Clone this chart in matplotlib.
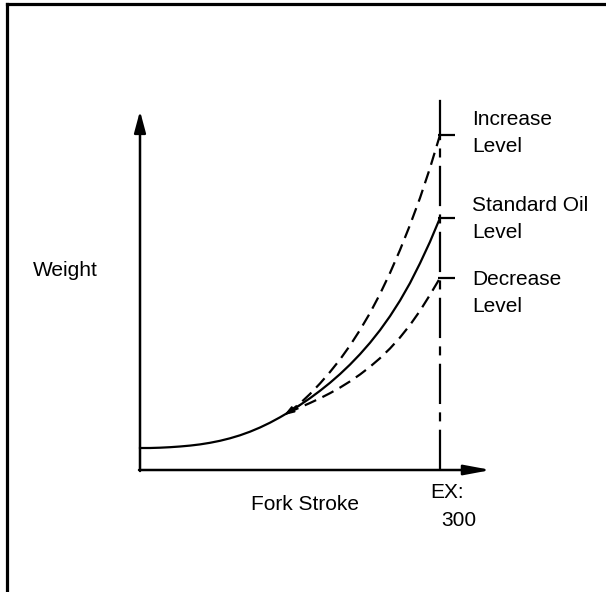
import matplotlib
matplotlib.use("Agg")
import matplotlib.pyplot as plt
from matplotlib.lines import Line2D

plt.rcParams['font.family'] = ['Liberation Sans', 'DejaVu Sans']
plt.rcParams['lines.scale_dashes'] = False

# ---- data (stroke units, weight units) ----
std_x = [0, 10, 20, 30, 40, 50, 60, 70, 80, 90, 100, 110, 120, 130, 140, 147,
         160, 170, 180, 190, 200, 210, 220, 230, 240, 250, 260, 270, 280, 290, 300]
std_y = [22, 22, 22.3, 22.8, 23.5, 24.4, 25.6, 27.2, 29.2, 31.7, 34.7, 38.3, 42.5, 47.3, 52.7, 56.8,
         65, 71.8, 79.2, 87.2, 95.9, 105.4, 115.8, 127.2, 139.8, 153.8, 169.4, 186.9, 206.7, 228.2, 252]
inc_x = [147, 155, 160, 170, 180, 190, 200, 210, 220, 230, 240, 250, 260, 270, 280, 290, 300]
inc_y = [56.8, 62.7, 66.6, 76, 86.5, 98, 110.5, 124.5, 140, 157, 176, 197, 220, 245, 272, 302, 335]
dec_x = [147, 155, 160, 170, 180, 190, 200, 210, 220, 230, 240, 250, 260, 270, 280, 290, 300]
dec_y = [56.8, 60.4, 62.6, 67, 71.7, 76.8, 82.4, 88.6, 95.5, 103.2, 111.8, 121.5, 132.5, 145, 159.2, 175.2, 192]
ex_stroke = 300
level_labels = ["Increase\nLevel", "Standard Oil\nLevel", "Decrease\nLevel"]

W, H = 606, 592
fig = plt.figure(figsize=(W / 100, H / 100), dpi=100)
ax = fig.add_axes([0, 0, 1, 1])
X0, Y0 = 140, 470  # pixel of origin
ax.set_xlim(-X0, W - X0)
ax.set_ylim(Y0 - H, Y0)
ax.axis('off')

def px(x, y):
    return x - X0, Y0 - y

# border (left and top only visible)
fig.add_artist(Line2D([7 / W, 7 / W], [0, 1 - 4 / H], color='black', lw=2.3))
fig.add_artist(Line2D([7 / W, 1], [1 - 4 / H, 1 - 4 / H], color='black', lw=2.3))

# axes with arrows
ax.annotate('', xy=px(140, 111), xytext=px(140, 471),
            arrowprops=dict(arrowstyle='-|>,head_length=1.3,head_width=0.35',
                            color='black', lw=1.8, shrinkA=0, shrinkB=0))
ax.annotate('', xy=px(491, 470), xytext=px(139, 470),
            arrowprops=dict(arrowstyle='-|>,head_length=1.6,head_width=0.3',
                            color='black', lw=1.8, shrinkA=0, shrinkB=0))

# vertical dash-dot line at EX
ax.plot([ex_stroke, ex_stroke], [0, 376], color='black', lw=1.6,
        dashes=(29, 6, 6.5, 6), solid_capstyle='butt', dash_capstyle='butt')

# curves
ax.plot(std_x, std_y, color='black', lw=1.6)
ax.plot(inc_x, inc_y, color='black', lw=1.6, dashes=(9, 5))
ax.plot(dec_x, dec_y, color='black', lw=1.6, dashes=(9, 5))

# small arrowhead at branch point
ax.annotate('', xy=(std_x[15] - 3, std_y[15] - 2), xytext=(std_x[16], std_y[16]),
            arrowprops=dict(arrowstyle='-|>,head_length=0.6,head_width=0.2',
                            color='black', lw=1.2, shrinkA=0, shrinkB=0))

# end ticks
for yv in (inc_y[-1], std_y[-1], dec_y[-1]):
    ax.plot([ex_stroke - 2, ex_stroke + 15], [yv, yv], color='black', lw=1.6,
            solid_capstyle='butt')

# level labels
fs = 15
for lbl, yc in zip(level_labels, (133, 219, 293)):
    ax.text(*px(472, yc), lbl, fontsize=fs, ha='left', va='center',
            linespacing=1.55)

ax.text(*px(33, 271), "Weight", fontsize=fs, ha='left', va='center')
ax.text(*px(251, 505), "Fork Stroke", fontsize=fs, ha='left', va='center')
ax.text(*px(430, 493), "EX:", fontsize=fs, ha='left', va='center')
ax.text(*px(441, 520), "300", fontsize=fs, ha='left', va='center')

fig.savefig('out.png', dpi=100)
